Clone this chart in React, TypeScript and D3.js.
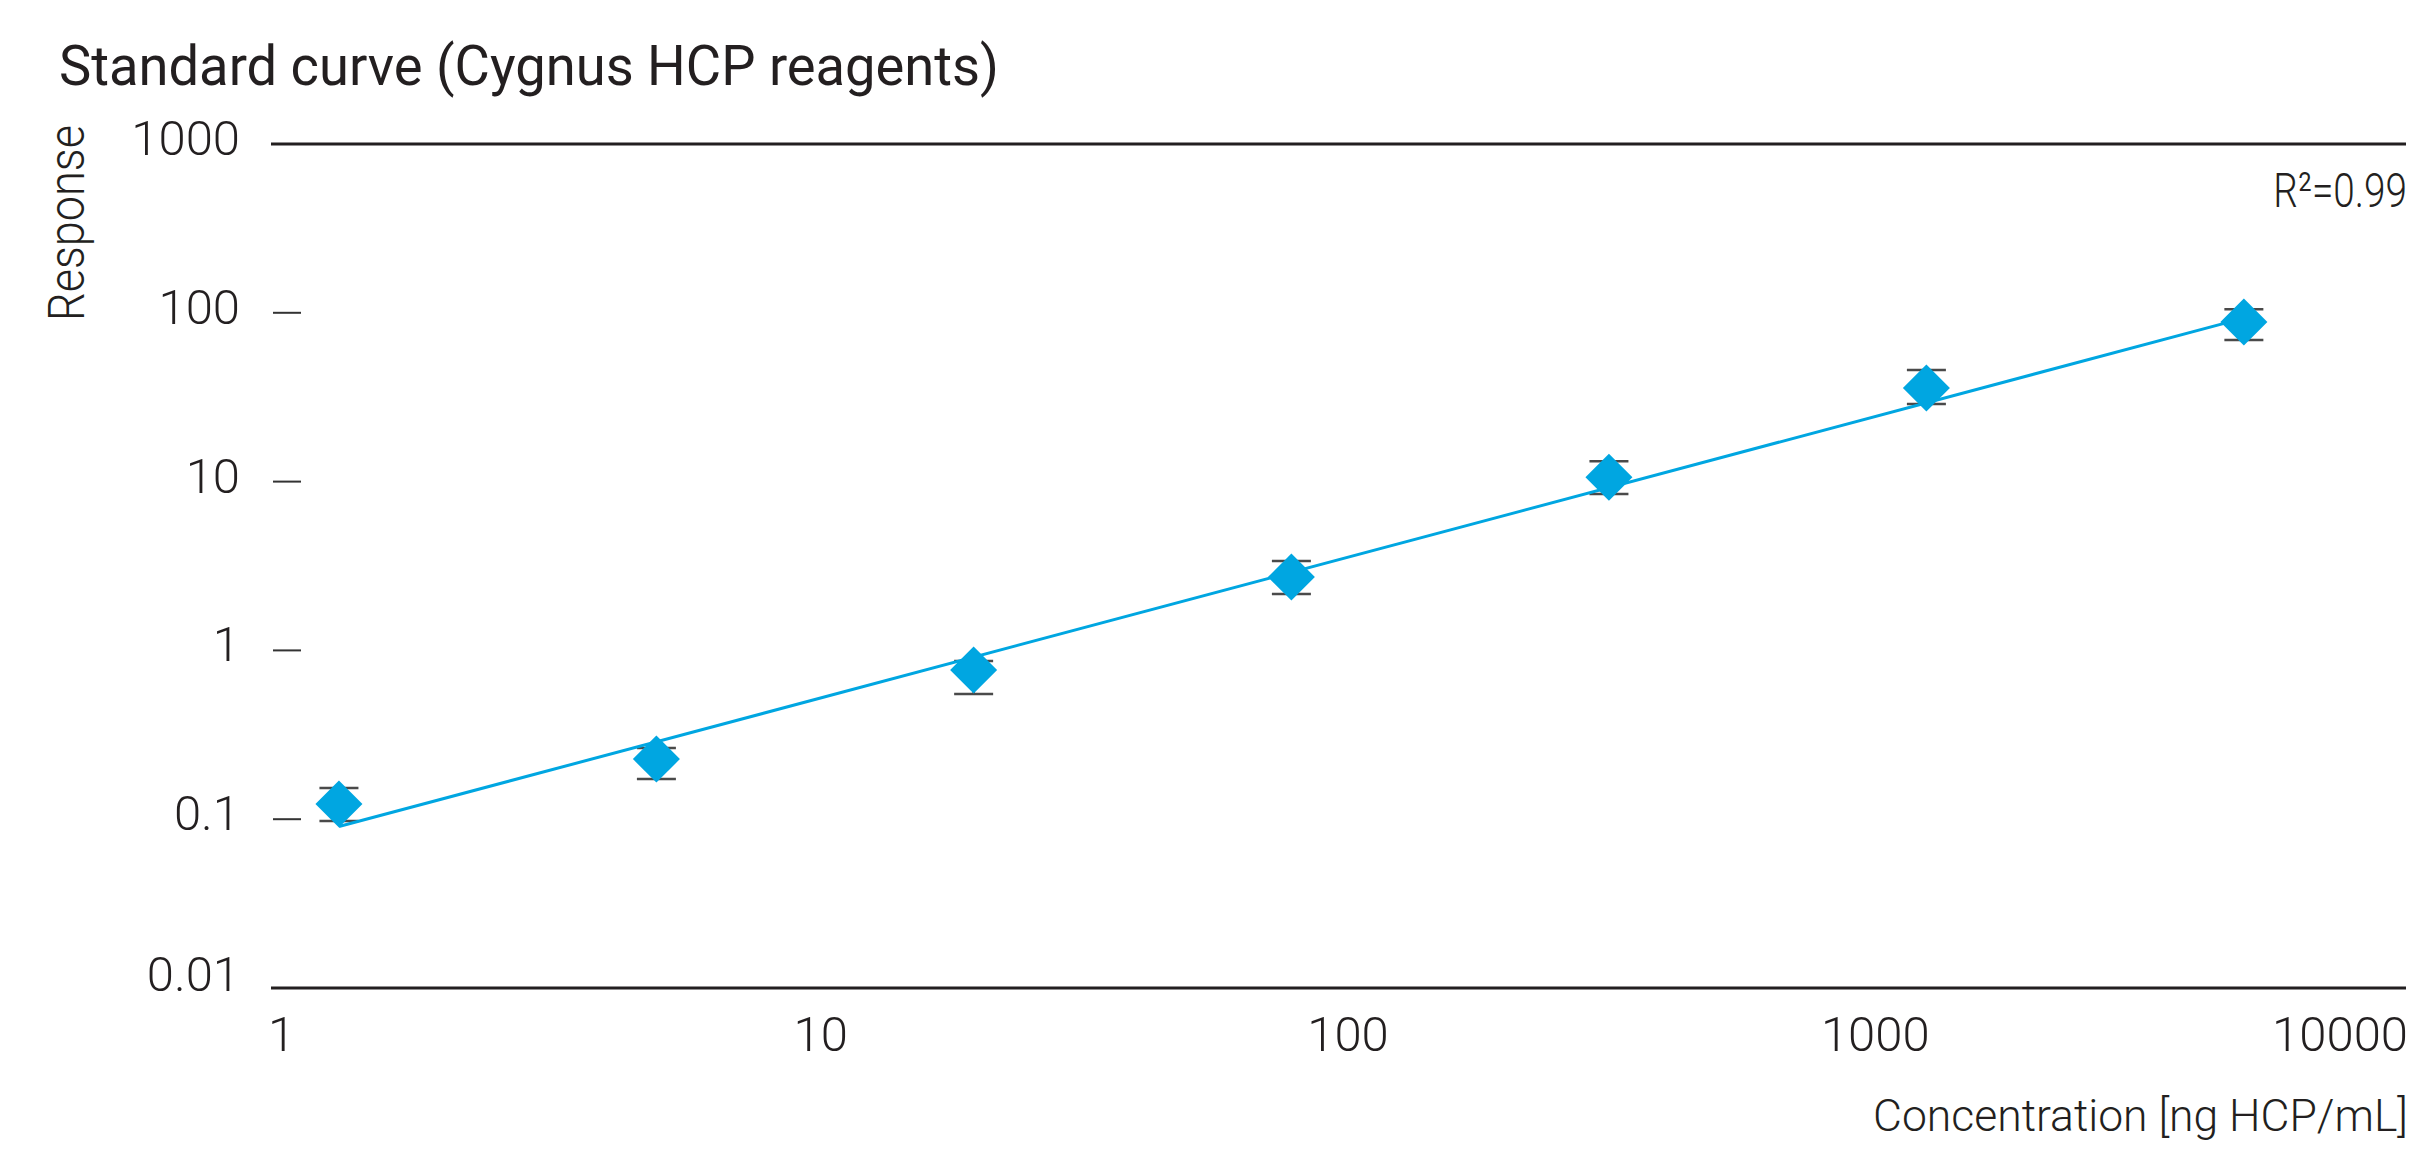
import React from "react";
import * as d3 from "d3";

// ---- data ----
const concentrations = [1.22, 4.88, 19.5, 78.1, 312.5, 1250, 5000];
const responses = [0.123, 0.227, 0.766, 2.72, 10.6, 35.9, 88.3];
const errLow = [0.0975, 0.173, 0.552, 2.16, 8.45, 28.8, 69];
const errHigh = [0.153, 0.264, 0.865, 3.39, 13.2, 45.8, 105];
const fitX = [1.22, 5000];
const fitY = [0.0905, 93];
const xTicks = [1, 10, 100, 1000, 10000];
const xTickLabels = ["1", "10", "100", "1000", "10000"];
const yTicks = [1000, 100, 10, 1, 0.1, 0.01];
const yTickLabels = ["1000", "100", "10", "1", "0.1", "0.01"];

const W = 2417;
const H = 1151;
const BLUE = "#00A6E1";
const INK = "#231F20";
const LIGHT = "Roboto, 'DejaVu Sans', sans-serif";

export default function App() {
  const x = d3.scaleLog().domain([1, 10000]).range([293.4, 2402.6]);
  const y = d3.scaleLog().domain([0.01, 1000]).range([988, 144]);
  const lineLeft = 271;
  const lineRight = 2406;
  const diamond = d3.symbol().type(d3.symbolSquare).size(1105)();
  const fitLine = d3
    .line<number>()
    .x((_, i) => x(fitX[i]))
    .y((d) => y(d));

  return (
    <svg
      width={W}
      height={H}
      style={{ position: "absolute", left: 0, top: 0, background: "#fff" }}
    >
      {/* title */}
      <text
        x={59}
        y={85}
        fontFamily={LIGHT}
        fontWeight={400}
        fontSize={56}
        fill={INK}
        textLength={940}
        lengthAdjust="spacingAndGlyphs"
      >
        Standard curve (Cygnus HCP reagents)
      </text>

      {/* y axis label */}
      <text
        transform="translate(84,223) rotate(-90)"
        textAnchor="middle"
        fontFamily={LIGHT}
        fontWeight={300}
        fontSize={50}
        fill={INK}
        textLength={196}
        lengthAdjust="spacingAndGlyphs"
      >
        Response
      </text>

      {/* top and bottom frame lines */}
      <line x1={lineLeft} x2={lineRight} y1={y(1000)} y2={y(1000)} stroke={INK} strokeWidth={3} />
      <line x1={lineLeft} x2={lineRight} y1={y(0.01)} y2={y(0.01)} stroke={INK} strokeWidth={3} />

      {/* y ticks */}
      {yTicks.map((t, i) => (
        <g key={"yt" + i}>
          {t !== 1000 && t !== 0.01 && (
            <line x1={lineLeft + 2} x2={301} y1={y(t)} y2={y(t)} stroke="#333" strokeWidth={2} />
          )}
          <text
            x={240}
            y={y(t) + (t === 0.01 ? 3 : 11)}
            textAnchor="end"
            fontFamily={LIGHT}
            fontWeight={300}
            fontSize={49}
            fill={INK}
          >
            {yTickLabels[i]}
          </text>
        </g>
      ))}

      {/* x tick labels */}
      {xTicks.map((t, i) => {
        const first = i === 0;
        const last = i === xTicks.length - 1;
        return (
          <text
            key={"xt" + i}
            x={first ? lineLeft - 3 : last ? lineRight + 2 : x(t)}
            y={1051}
            textAnchor={first ? "start" : last ? "end" : "middle"}
            fontFamily={LIGHT}
            fontWeight={300}
            fontSize={49}
            fill={INK}
          >
            {xTickLabels[i]}
          </text>
        );
      })}

      {/* x axis label */}
      <text
        x={2408}
        y={1131}
        textAnchor="end"
        fontFamily={LIGHT}
        fontWeight={300}
        fontSize={45}
        fill={INK}
        textLength={535}
        lengthAdjust="spacingAndGlyphs"
      >
        Concentration [ng HCP/mL]
      </text>

      {/* R² annotation */}
      <g transform={`translate(${lineRight + 1},207) scale(0.79,1)`}>
        <text
          x={0}
          y={0}
          textAnchor="end"
          fontFamily={LIGHT}
          fontWeight={300}
          fontSize={49}
          fill={INK}
        >
          R²=0.99
        </text>
      </g>

      {/* error bars */}
      {concentrations.map((c, i) => (
        <g key={"eb" + i} stroke="#4a4a4a" strokeWidth={2.5}>
          <line x1={x(c)} x2={x(c)} y1={y(errLow[i])} y2={y(errHigh[i])} />
          <line x1={x(c) - 19.5} x2={x(c) + 19.5} y1={y(errHigh[i])} y2={y(errHigh[i])} />
          <line x1={x(c) - 19.5} x2={x(c) + 19.5} y1={y(errLow[i])} y2={y(errLow[i])} />
        </g>
      ))}

      {/* fit line */}
      <path d={fitLine(fitY) || ""} fill="none" stroke={BLUE} strokeWidth={3} />

      {/* markers */}
      {concentrations.map((c, i) => (
        <path
          key={"pt" + i}
          d={diamond || ""}
          transform={`translate(${x(c)},${y(responses[i])}) rotate(45)`}
          fill={BLUE}
        />
      ))}
    </svg>
  );
}
